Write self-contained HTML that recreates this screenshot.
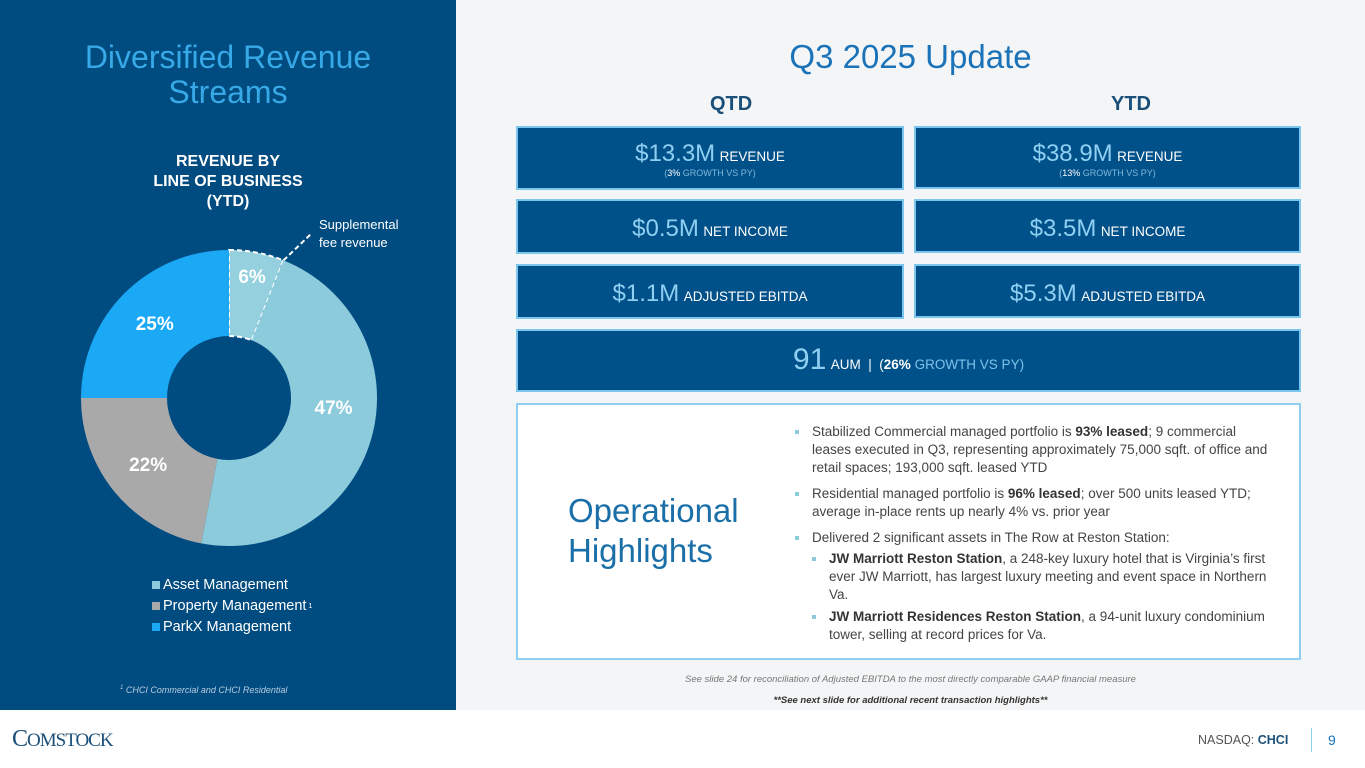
<!DOCTYPE html>
<html><head><meta charset="utf-8"><style>
*{margin:0;padding:0;box-sizing:border-box}
body{width:1365px;height:768px;position:relative;overflow:hidden;background:#fff;font-family:"Liberation Sans",sans-serif}
.abs{position:absolute}
#left{left:0;top:0;width:456px;height:710px;background:#004b80}
#right{left:456px;top:0;width:909px;height:710px;background:#f4f5f6}
.box{position:absolute;background:#00518a;border:2px solid #7cc6ee;color:#fff;text-align:center}
.big{color:#8fd0f2;font-size:24px}
.sm{font-size:13.5px;color:#fff}
.sub{font-size:9px;color:#7fb6d9;display:block;margin-top:0px}
.sub b{color:#fff;font-weight:normal}
ul{list-style:none}
li{position:relative;padding-left:17px;margin-bottom:8px;font-size:13.5px;line-height:18px;color:#444}
li:before{content:"";position:absolute;left:0;top:7px;width:4px;height:4px;background:#8ccbdc}
.leg div{height:21px}
</style></head><body>
<div id="left" class="abs">
  <div class="abs" style="left:0;top:40px;width:456px;text-align:center;color:#36a9e6;font-size:32px;line-height:35px">Diversified Revenue<br>Streams</div>
  <div class="abs" style="left:0;top:152px;width:456px;text-align:center;color:#fff;font-weight:bold;font-size:16px;line-height:20px">REVENUE BY<br>LINE OF BUSINESS<br>(YTD)</div>
  <div class="abs" style="left:319px;top:216px;color:#fff;font-size:13px;line-height:18px">Supplemental<br>fee revenue</div>
  <svg id="donut" class="abs" style="left:0;top:0" width="456" height="710"></svg>
  <div class="abs leg" style="left:152px;top:575px;color:#fff;font-size:14.5px;line-height:21px">
    <div><span style="display:inline-block;width:8px;height:8px;background:#8ccbdc;margin-right:3px"></span>Asset Management</div>
    <div><span style="display:inline-block;width:8px;height:8px;background:#a9a9a9;margin-right:3px"></span>Property Management<span style="font-size:7px;vertical-align:top"> 1</span></div>
    <div><span style="display:inline-block;width:8px;height:8px;background:#1ba8f5;margin-right:3px"></span>ParkX Management</div>
  </div>
  <div class="abs" style="left:120px;top:685px;color:#b7cde0;font-size:9px;font-style:italic"><sup style="font-size:6px">1</sup> CHCI Commercial and CHCI Residential</div>
</div>
<div id="right" class="abs">
  <div class="abs" style="left:0;top:38px;width:909px;text-align:center;color:#1a72b8;font-size:33px">Q3 2025 Update</div>
  <div class="abs" style="left:254px;top:93px;color:#1a4f7a;font-weight:bold;font-size:20px">QTD</div>
  <div class="abs" style="left:655px;top:93px;color:#1a4f7a;font-weight:bold;font-size:20px">YTD</div>
</div>
<div class="box" style="left:516px;top:126px;width:388px;height:64px;padding-top:12px"><span class="big">$13.3M</span> <span class="sm">REVENUE</span><span class="sub">(<b>3%</b> GROWTH VS PY)</span></div>
<div class="box" style="left:914px;top:126px;width:387px;height:63px;padding-top:12px"><span class="big">$38.9M</span> <span class="sm">REVENUE</span><span class="sub">(<b>13%</b> GROWTH VS PY)</span></div>
<div class="box" style="left:516px;top:199px;width:388px;height:55px;padding-top:14px"><span class="big">$0.5M</span> <span class="sm">NET INCOME</span></div>
<div class="box" style="left:914px;top:199px;width:387px;height:54px;padding-top:14px"><span class="big">$3.5M</span> <span class="sm">NET INCOME</span></div>
<div class="box" style="left:516px;top:264px;width:388px;height:55px;padding-top:14px"><span class="big">$1.1M</span> <span class="sm">ADJUSTED EBITDA</span></div>
<div class="box" style="left:914px;top:264px;width:387px;height:54px;padding-top:14px"><span class="big">$5.3M</span> <span class="sm">ADJUSTED EBITDA</span></div>
<div class="box" style="left:516px;top:329px;width:785px;height:63px;padding-top:12px"><span class="big" style="font-size:30px">91</span> <span class="sm">AUM &nbsp;|&nbsp; (<b>26%</b> <span style="color:#7fc2ea">GROWTH VS PY)</span></span></div>
<div class="abs" style="left:516px;top:403px;width:785px;height:257px;background:#fff;border:2px solid #8fd0f2">
  <div class="abs" style="left:50px;top:86px;color:#1a6fa8;font-size:33px;line-height:40px">Operational<br>Highlights</div>
  <ul class="abs" style="left:277px;top:18px;width:480px">
    <li>Stabilized Commercial managed portfolio is <b style="color:#333">93% leased</b>; 9 commercial leases executed in Q3, representing approximately 75,000 sqft. of office and retail spaces; 193,000 sqft. leased YTD</li>
    <li>Residential managed portfolio is <b style="color:#333">96% leased</b>; over 500 units leased YTD; average in-place rents up nearly 4% vs. prior year</li>
    <li style="margin-bottom:2px">Delivered 2 significant assets in The Row at Reston Station:
      <ul style="margin-top:3px">
        <li style="margin-bottom:4px"><b style="color:#333">JW Marriott Reston Station</b>, a 248-key luxury hotel that is Virginia’s first ever JW Marriott, has largest luxury meeting and event space in Northern Va.</li>
        <li><b style="color:#333">JW Marriott Residences Reston Station</b>, a 94-unit luxury condominium tower, selling at record prices for Va.</li>
      </ul></li>
  </ul>
</div>
<div class="abs" style="left:456px;top:674px;width:909px;text-align:center;color:#777;font-size:9.5px;font-style:italic">See slide 24 for reconciliation of Adjusted EBITDA to the most directly comparable GAAP financial measure</div>
<div class="abs" style="left:456px;top:695px;width:909px;text-align:center;color:#333;font-size:9.5px;font-style:italic;font-weight:bold">**See next slide for additional recent transaction highlights**</div>
<div class="abs" style="left:12px;top:726px;color:#1a4f7a;font-family:'Liberation Serif',serif;font-size:24px;letter-spacing:-1px">C<span style="font-size:19px">OMSTOCK</span></div>
<div class="abs" style="left:1198px;top:733px;color:#555;font-size:12.5px">NASDAQ: <span style="color:#1a4f7a;font-weight:bold">CHCI</span></div>
<div class="abs" style="left:1311px;top:728px;width:1px;height:24px;background:#8fd0f2"></div>
<div class="abs" style="left:1328px;top:732px;color:#1a72b8;font-size:14px">9</div>
<script>
const categories=["Supplemental fee revenue","Asset Management","Property Management","ParkX Management"];
const shares=[6,47,22,25];
const labels=["6%","47%","22%","25%"];
const colors=["#95d0de","#8ccbdc","#a9a9a9","#1ba8f5"];
const svg=document.getElementById('donut');
const NS="http://www.w3.org/2000/svg";
const cx=229,cy=398,R=148,r=62;
const total=shares.reduce((a,b)=>a+b,0);
function pt(frac,rad){const a=frac*2*Math.PI-Math.PI/2;return [cx+rad*Math.cos(a),cy+rad*Math.sin(a)];}
let acc=0;
shares.forEach((v,i)=>{
  const f0=acc/total,f1=(acc+v)/total;acc+=v;
  const large=(f1-f0)>0.5?1:0;
  const [x0,y0]=pt(f0,R),[x1,y1]=pt(f1,R),[x2,y2]=pt(f1,r),[x3,y3]=pt(f0,r);
  const p=document.createElementNS(NS,'path');
  p.setAttribute('d',`M${x0},${y0}A${R},${R} 0 ${large} 1 ${x1},${y1}L${x2},${y2}A${r},${r} 0 ${large} 0 ${x3},${y3}Z`);
  p.setAttribute('fill',colors[i]);
  if(i===0){p.setAttribute('stroke','#fff');p.setAttribute('stroke-width','2');p.setAttribute('stroke-dasharray','5,3');}
  
  
  svg.appendChild(p);
  const mid=i===1?f1/2:(f0+f1)/2;
  const [lx,ly]=pt(mid,i===0?(R+r)/2+18:(R+r)/2);
  const t=document.createElementNS(NS,'text');
  t.setAttribute('x',lx);t.setAttribute('y',ly+6);t.setAttribute('text-anchor','middle');
  t.setAttribute('fill','#fff');t.setAttribute('font-size','19');t.setAttribute('font-weight','bold');
  t.setAttribute('font-family','Liberation Sans, sans-serif');
  t.textContent=labels[i];
  
  
  svg.appendChild(t);
  if(i===0){
    const [ax,ay]=pt(f1,R);
    const l=document.createElementNS(NS,'line');
    l.setAttribute('x1',ax);l.setAttribute('y1',ay);l.setAttribute('x2',312);l.setAttribute('y2',233);
    l.setAttribute('stroke','#fff');l.setAttribute('stroke-width','2');l.setAttribute('stroke-dasharray','5,3');
    
    
    svg.appendChild(l);
  }
});
</script>
</body></html>
